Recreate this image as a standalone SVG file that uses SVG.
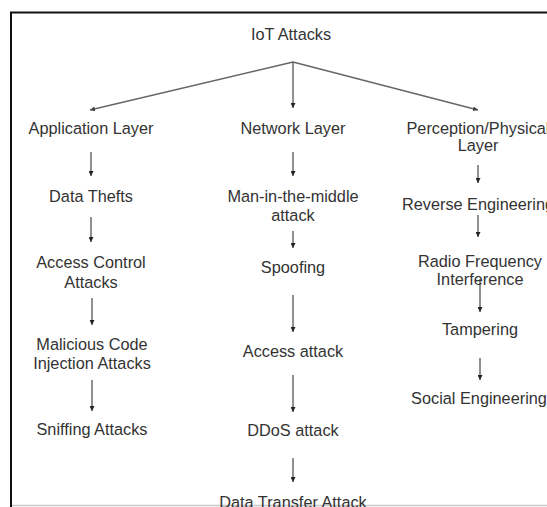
<svg xmlns="http://www.w3.org/2000/svg" width="547" height="507" viewBox="0 0 547 507">
<defs>
<marker id="ah" viewBox="0 0 8 8" refX="8" refY="4" markerWidth="5" markerHeight="5" orient="auto" markerUnits="userSpaceOnUse">
<path d="M0,0 L8,4 L0,8 z" fill="#222"/>
</marker>
<marker id="ahg" viewBox="0 0 8 8" refX="8" refY="4" markerWidth="5" markerHeight="5" orient="auto" markerUnits="userSpaceOnUse">
<path d="M0,0 L8,4 L0,8 z" fill="#444"/>
</marker>
</defs>
<style>
text{font-family:"Liberation Sans",Arial,sans-serif;font-size:16.3px;fill:#333;text-anchor:middle}
.c line{stroke:#222;stroke-width:1;marker-end:url(#ah)}
.c line.g{stroke:#666;stroke-width:1.3;marker-end:url(#ahg)}
</style>
<rect width="547" height="507" fill="#fff"/>
<g id="frame">
<line x1="12" y1="505.5" x2="547" y2="505.5" stroke="#c8c8c8" stroke-width="1.5"/>
<line x1="11" y1="12" x2="11" y2="507" stroke="#111" stroke-width="2"/>
<line x1="10" y1="12.5" x2="547" y2="12.5" stroke="#111" stroke-width="2"/>
</g>
<g id="connectors" class="c">
<line class="g" x1="293" y1="62" x2="90" y2="110"/>
<line x1="293" y1="62" x2="293" y2="108"/>
<line class="g" x1="293" y1="62" x2="478" y2="110"/>
<line x1="91" y1="152" x2="91" y2="176"/>
<line x1="91" y1="217" x2="91" y2="242"/>
<line x1="92" y1="298" x2="92" y2="325"/>
<line x1="92" y1="380" x2="92" y2="411"/>
<line x1="293" y1="152" x2="293" y2="176"/>
<line x1="293" y1="231" x2="293" y2="248"/>
<line x1="293" y1="295" x2="293" y2="332"/>
<line x1="293" y1="375" x2="293" y2="412"/>
<line x1="293" y1="458" x2="293" y2="482"/>
<line x1="478" y1="165" x2="478" y2="183"/>
<line x1="478" y1="215" x2="478" y2="237"/>
<line x1="480" y1="279" x2="480" y2="312"/>
<line x1="480" y1="358" x2="480" y2="380"/>
</g>
<g id="root"><text x="291" y="40">IoT Attacks</text></g>
<g id="app"><text x="91" y="134">Application Layer</text></g>
<g id="datathefts"><text x="91" y="202">Data Thefts</text></g>
<g id="accessctl"><text x="91" y="268">Access Control</text><text x="91" y="288">Attacks</text></g>
<g id="malicious"><text x="92" y="350">Malicious Code</text><text x="92" y="369">Injection Attacks</text></g>
<g id="sniffing"><text x="92" y="435">Sniffing Attacks</text></g>
<g id="network"><text x="293" y="134">Network Layer</text></g>
<g id="mitm"><text x="293" y="202">Man-in-the-middle</text><text x="293" y="221">attack</text></g>
<g id="spoofing"><text x="293" y="273">Spoofing</text></g>
<g id="access"><text x="293" y="357">Access attack</text></g>
<g id="ddos"><text x="293" y="436">DDoS attack</text></g>
<g id="datatransfer"><text x="293" y="508">Data Transfer Attack</text></g>
<g id="perception"><text x="478" y="134">Perception/Physical</text><text x="478" y="151">Layer</text></g>
<g id="reverse"><text x="478" y="210">Reverse Engineering</text></g>
<g id="radio"><text x="480" y="267">Radio Frequency</text><text x="480" y="285">Interference</text></g>
<g id="tampering"><text x="480" y="335">Tampering</text></g>
<g id="social"><text x="479" y="404">Social Engineering</text></g>
</svg>
